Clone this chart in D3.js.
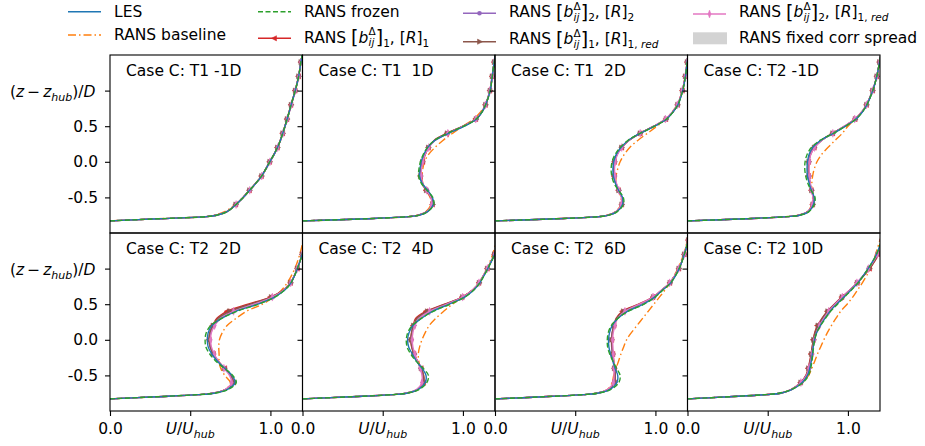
<!DOCTYPE html>
<html lang="en">
<head>
<meta charset="utf-8">
<script src="https://d3js.org/d3.v7.min.js"></script>
<title>Case C velocity profiles</title>
<style>
    body {margin: 0; background: #fff;}
    svg {display: block; font-family: "DejaVu Sans", sans-serif;}
    text {white-space: pre;}
</style>
</head>
<body>
<svg width="925" height="446"></svg>
<script>
// heights (z - z_hub)/D shared by every profile
const zLevels = [-0.83, -0.8, -0.77, -0.75, -0.7, -0.6, -0.5, -0.4, -0.3, -0.2, -0.1, 0, 0.1, 0.2, 0.3, 0.4, 0.5, 0.6, 0.7, 0.8, 1.0, 1.2, 1.4, 1.5];

const panelTitles = ["Case C: T1 -1D", "Case C: T1  1D", "Case C: T1  2D", "Case C: T2 -1D",
                     "Case C: T2  2D", "Case C: T2  4D", "Case C: T2  6D", "Case C: T2 10D"];

const xTicks = [0, 0.5, 1.0];
const yTicks = [-0.5, 0, 0.5, 1.0];

// U/U_hub, one row per panel
const les = [
    [0, 0.30, 0.60, 0.665, 0.73, 0.785, 0.83, 0.87, 0.91, 0.945, 0.972, 0.996, 1.022, 1.044, 1.062, 1.077, 1.091, 1.104, 1.117, 1.129, 1.155, 1.176, 1.19, 1.198],
    [0, 0.40, 0.66, 0.73, 0.78, 0.815, 0.81, 0.78, 0.745, 0.73, 0.732, 0.74, 0.755, 0.78, 0.825, 0.91, 1.01, 1.085, 1.12, 1.142, 1.17, 1.183, 1.195, 1.202],
    [0, 0.38, 0.65, 0.71, 0.76, 0.795, 0.795, 0.77, 0.75, 0.738, 0.735, 0.74, 0.755, 0.785, 0.83, 0.905, 0.995, 1.07, 1.11, 1.14, 1.17, 1.187, 1.198, 1.203],
    [0, 0.36, 0.62, 0.70, 0.755, 0.785, 0.79, 0.772, 0.758, 0.748, 0.745, 0.748, 0.757, 0.78, 0.83, 0.91, 0.985, 1.05, 1.09, 1.118, 1.155, 1.18, 1.197, 1.205],
    [0, 0.29, 0.55, 0.65, 0.73, 0.78, 0.76, 0.715, 0.67, 0.635, 0.612, 0.607, 0.612, 0.635, 0.695, 0.785, 0.92, 1.025, 1.09, 1.128, 1.168, 1.198, 1.22, 1.23],
    [0, 0.30, 0.56, 0.65, 0.72, 0.765, 0.77, 0.745, 0.71, 0.685, 0.662, 0.655, 0.664, 0.688, 0.74, 0.81, 0.915, 1.01, 1.068, 1.105, 1.155, 1.197, 1.22, 1.23],
    [0, 0.30, 0.55, 0.64, 0.715, 0.76, 0.765, 0.748, 0.735, 0.72, 0.71, 0.708, 0.714, 0.73, 0.765, 0.825, 0.925, 0.995, 1.045, 1.095, 1.148, 1.18, 1.205, 1.215],
    [0, 0.26, 0.49, 0.58, 0.65, 0.715, 0.748, 0.762, 0.772, 0.778, 0.784, 0.792, 0.805, 0.828, 0.857, 0.888, 0.93, 0.975, 1.02, 1.062, 1.126, 1.178, 1.21, 1.225]
];
const baseline = [
    [0, 0.30, 0.60, 0.65, 0.715, 0.78, 0.828, 0.868, 0.908, 0.944, 0.972, 0.996, 1.022, 1.044, 1.062, 1.077, 1.091, 1.104, 1.117, 1.129, 1.155, 1.176, 1.19, 1.198],
    [0, 0.40, 0.66, 0.72, 0.77, 0.80, 0.795, 0.77, 0.75, 0.745, 0.75, 0.76, 0.785, 0.825, 0.875, 0.935, 1.0, 1.065, 1.11, 1.14, 1.17, 1.183, 1.195, 1.202],
    [0, 0.38, 0.64, 0.70, 0.75, 0.785, 0.785, 0.77, 0.755, 0.755, 0.765, 0.78, 0.805, 0.84, 0.89, 0.95, 1.01, 1.065, 1.105, 1.135, 1.168, 1.186, 1.197, 1.203],
    [0, 0.36, 0.61, 0.69, 0.745, 0.775, 0.78, 0.775, 0.775, 0.78, 0.79, 0.807, 0.835, 0.875, 0.92, 0.965, 1.0, 1.045, 1.085, 1.115, 1.155, 1.18, 1.197, 1.205],
    [0, 0.29, 0.55, 0.64, 0.72, 0.75, 0.715, 0.69, 0.68, 0.68, 0.678, 0.682, 0.70, 0.73, 0.785, 0.85, 0.95, 1.02, 1.07, 1.105, 1.152, 1.183, 1.205, 1.215],
    [0, 0.30, 0.56, 0.65, 0.72, 0.75, 0.75, 0.735, 0.725, 0.722, 0.73, 0.745, 0.765, 0.79, 0.83, 0.88, 0.935, 1.0, 1.06, 1.1, 1.15, 1.185, 1.21, 1.22],
    [0, 0.30, 0.55, 0.63, 0.70, 0.73, 0.74, 0.755, 0.77, 0.785, 0.802, 0.82, 0.85, 0.885, 0.92, 0.955, 0.99, 1.025, 1.06, 1.09, 1.14, 1.175, 1.2, 1.21],
    [0, 0.26, 0.49, 0.58, 0.645, 0.715, 0.755, 0.775, 0.793, 0.81, 0.83, 0.85, 0.872, 0.897, 0.925, 0.955, 0.995, 1.03, 1.06, 1.09, 1.14, 1.172, 1.2, 1.215]
];
const frozen = [
    [0, 0.30, 0.60, 0.665, 0.73, 0.786, 0.831, 0.87, 0.91, 0.945, 0.972, 0.996, 1.021, 1.044, 1.062, 1.077, 1.091, 1.104, 1.117, 1.129, 1.155, 1.176, 1.19, 1.198],
    [0, 0.40, 0.66, 0.73, 0.78, 0.818, 0.812, 0.775, 0.74, 0.724, 0.726, 0.735, 0.752, 0.778, 0.822, 0.905, 1.005, 1.082, 1.118, 1.141, 1.17, 1.183, 1.195, 1.202],
    [0, 0.38, 0.65, 0.71, 0.762, 0.80, 0.80, 0.77, 0.742, 0.728, 0.724, 0.73, 0.748, 0.78, 0.828, 0.905, 0.995, 1.07, 1.11, 1.14, 1.17, 1.187, 1.198, 1.203],
    [0, 0.36, 0.62, 0.70, 0.757, 0.79, 0.795, 0.77, 0.75, 0.737, 0.731, 0.733, 0.745, 0.772, 0.825, 0.91, 0.985, 1.05, 1.09, 1.118, 1.155, 1.18, 1.197, 1.205],
    [0, 0.29, 0.55, 0.65, 0.735, 0.787, 0.765, 0.712, 0.66, 0.622, 0.598, 0.593, 0.6, 0.628, 0.695, 0.79, 0.925, 1.027, 1.09, 1.128, 1.168, 1.198, 1.22, 1.23],
    [0, 0.30, 0.56, 0.65, 0.725, 0.775, 0.785, 0.752, 0.708, 0.675, 0.652, 0.647, 0.656, 0.683, 0.74, 0.815, 0.92, 1.012, 1.068, 1.105, 1.155, 1.197, 1.22, 1.23],
    [0, 0.30, 0.55, 0.64, 0.72, 0.772, 0.78, 0.757, 0.735, 0.715, 0.702, 0.70, 0.706, 0.725, 0.765, 0.83, 0.93, 0.998, 1.047, 1.095, 1.148, 1.18, 1.205, 1.215],
    [0, 0.26, 0.48, 0.57, 0.645, 0.72, 0.755, 0.768, 0.776, 0.781, 0.786, 0.793, 0.806, 0.83, 0.86, 0.892, 0.935, 0.978, 1.022, 1.063, 1.126, 1.178, 1.21, 1.225]
];
// RANS [b]_1, [R]_1
const corrB1R1 = [
    [0, 0.30, 0.60, 0.662, 0.728, 0.784, 0.829, 0.869, 0.909, 0.944, 0.971, 0.995, 1.021, 1.043, 1.061, 1.076, 1.09, 1.103, 1.116, 1.128, 1.154, 1.175, 1.19, 1.198],
    [0, 0.40, 0.66, 0.72, 0.775, 0.81, 0.80, 0.77, 0.745, 0.735, 0.74, 0.75, 0.765, 0.785, 0.82, 0.90, 1.0, 1.08, 1.118, 1.14, 1.168, 1.182, 1.195, 1.202],
    [0, 0.38, 0.65, 0.705, 0.755, 0.79, 0.79, 0.77, 0.752, 0.742, 0.74, 0.745, 0.76, 0.79, 0.835, 0.905, 0.99, 1.065, 1.108, 1.138, 1.168, 1.186, 1.198, 1.203],
    [0, 0.36, 0.62, 0.695, 0.75, 0.78, 0.785, 0.772, 0.762, 0.755, 0.752, 0.755, 0.765, 0.79, 0.835, 0.905, 0.98, 1.045, 1.087, 1.116, 1.154, 1.18, 1.197, 1.205],
    [0, 0.29, 0.55, 0.64, 0.72, 0.77, 0.755, 0.715, 0.675, 0.645, 0.625, 0.618, 0.622, 0.64, 0.665, 0.73, 0.86, 1.0, 1.08, 1.125, 1.168, 1.198, 1.22, 1.23],
    [0, 0.30, 0.56, 0.645, 0.715, 0.755, 0.755, 0.74, 0.715, 0.695, 0.68, 0.675, 0.68, 0.69, 0.705, 0.77, 0.885, 0.995, 1.06, 1.1, 1.152, 1.197, 1.22, 1.23],
    [0, 0.30, 0.55, 0.635, 0.705, 0.745, 0.75, 0.745, 0.74, 0.735, 0.73, 0.728, 0.732, 0.742, 0.755, 0.795, 0.895, 0.985, 1.04, 1.09, 1.146, 1.18, 1.205, 1.215],
    [0, 0.26, 0.49, 0.58, 0.645, 0.705, 0.738, 0.752, 0.762, 0.77, 0.777, 0.784, 0.793, 0.81, 0.838, 0.872, 0.915, 0.962, 1.012, 1.058, 1.135, 1.19, 1.215, 1.225]
];
// RANS [b]_2, [R]_2
const corrB2R2 = [
    [0, 0.30, 0.60, 0.663, 0.729, 0.785, 0.83, 0.87, 0.91, 0.945, 0.972, 0.996, 1.022, 1.044, 1.062, 1.077, 1.091, 1.104, 1.117, 1.129, 1.155, 1.176, 1.19, 1.198],
    [0, 0.40, 0.66, 0.725, 0.778, 0.812, 0.805, 0.775, 0.748, 0.736, 0.738, 0.746, 0.76, 0.784, 0.825, 0.905, 1.005, 1.083, 1.12, 1.141, 1.169, 1.183, 1.195, 1.202],
    [0, 0.38, 0.65, 0.707, 0.757, 0.792, 0.792, 0.772, 0.755, 0.745, 0.742, 0.746, 0.76, 0.788, 0.832, 0.903, 0.992, 1.067, 1.109, 1.139, 1.169, 1.187, 1.198, 1.203],
    [0, 0.36, 0.62, 0.697, 0.752, 0.782, 0.786, 0.774, 0.765, 0.758, 0.755, 0.757, 0.766, 0.79, 0.834, 0.906, 0.982, 1.047, 1.088, 1.117, 1.155, 1.18, 1.197, 1.205],
    [0, 0.29, 0.55, 0.64, 0.722, 0.765, 0.75, 0.712, 0.672, 0.642, 0.625, 0.62, 0.626, 0.648, 0.685, 0.765, 0.9, 1.015, 1.085, 1.127, 1.168, 1.198, 1.22, 1.23],
    [0, 0.30, 0.56, 0.645, 0.715, 0.752, 0.752, 0.738, 0.715, 0.697, 0.683, 0.678, 0.682, 0.695, 0.725, 0.79, 0.9, 1.0, 1.063, 1.102, 1.153, 1.197, 1.22, 1.23],
    [0, 0.30, 0.55, 0.635, 0.705, 0.745, 0.748, 0.742, 0.737, 0.732, 0.727, 0.726, 0.73, 0.742, 0.762, 0.81, 0.905, 0.99, 1.042, 1.092, 1.147, 1.18, 1.205, 1.215],
    [0, 0.26, 0.49, 0.58, 0.647, 0.708, 0.742, 0.757, 0.767, 0.774, 0.78, 0.788, 0.799, 0.818, 0.846, 0.878, 0.92, 0.966, 1.014, 1.058, 1.13, 1.184, 1.212, 1.225]
];
// RANS [b]_1, [R]_1,red
const corrB1R1red = [
    [0, 0.30, 0.60, 0.662, 0.728, 0.784, 0.83, 0.87, 0.91, 0.945, 0.972, 0.996, 1.022, 1.044, 1.062, 1.077, 1.091, 1.104, 1.117, 1.129, 1.155, 1.176, 1.19, 1.198],
    [0, 0.40, 0.66, 0.722, 0.776, 0.811, 0.803, 0.772, 0.746, 0.735, 0.739, 0.748, 0.763, 0.785, 0.822, 0.902, 1.002, 1.082, 1.119, 1.141, 1.169, 1.182, 1.195, 1.202],
    [0, 0.38, 0.65, 0.706, 0.756, 0.79, 0.79, 0.771, 0.753, 0.743, 0.741, 0.745, 0.76, 0.789, 0.834, 0.904, 0.99, 1.066, 1.108, 1.138, 1.168, 1.186, 1.198, 1.203],
    [0, 0.36, 0.62, 0.696, 0.751, 0.781, 0.785, 0.773, 0.763, 0.756, 0.753, 0.756, 0.765, 0.79, 0.835, 0.905, 0.98, 1.045, 1.087, 1.116, 1.154, 1.18, 1.197, 1.205],
    [0, 0.29, 0.55, 0.64, 0.72, 0.768, 0.752, 0.713, 0.674, 0.644, 0.624, 0.618, 0.623, 0.642, 0.672, 0.745, 0.875, 1.005, 1.082, 1.126, 1.168, 1.198, 1.22, 1.23],
    [0, 0.30, 0.56, 0.645, 0.715, 0.754, 0.754, 0.739, 0.716, 0.696, 0.681, 0.676, 0.68, 0.692, 0.712, 0.778, 0.89, 0.997, 1.061, 1.101, 1.152, 1.197, 1.22, 1.23],
    [0, 0.30, 0.55, 0.635, 0.705, 0.745, 0.749, 0.744, 0.739, 0.734, 0.729, 0.727, 0.731, 0.742, 0.758, 0.80, 0.90, 0.987, 1.041, 1.09, 1.146, 1.18, 1.205, 1.215],
    [0, 0.26, 0.49, 0.58, 0.646, 0.706, 0.74, 0.754, 0.764, 0.772, 0.778, 0.786, 0.795, 0.813, 0.84, 0.874, 0.917, 0.963, 1.013, 1.058, 1.134, 1.188, 1.214, 1.225]
];
// RANS [b]_2, [R]_1,red
const corrB2R1red = [
    [0, 0.30, 0.60, 0.664, 0.73, 0.786, 0.831, 0.871, 0.911, 0.946, 0.973, 0.997, 1.023, 1.045, 1.063, 1.078, 1.092, 1.105, 1.118, 1.13, 1.156, 1.177, 1.19, 1.198],
    [0, 0.40, 0.66, 0.724, 0.777, 0.805, 0.80, 0.774, 0.75, 0.74, 0.742, 0.75, 0.764, 0.787, 0.826, 0.906, 1.003, 1.08, 1.117, 1.14, 1.168, 1.183, 1.195, 1.202],
    [0, 0.38, 0.65, 0.706, 0.755, 0.787, 0.787, 0.772, 0.757, 0.748, 0.745, 0.749, 0.763, 0.79, 0.834, 0.905, 0.99, 1.062, 1.105, 1.136, 1.167, 1.186, 1.198, 1.203],
    [0, 0.36, 0.62, 0.696, 0.75, 0.778, 0.782, 0.772, 0.765, 0.76, 0.758, 0.76, 0.768, 0.792, 0.836, 0.906, 0.978, 1.042, 1.085, 1.115, 1.153, 1.18, 1.197, 1.205],
    [0, 0.29, 0.55, 0.64, 0.718, 0.758, 0.745, 0.71, 0.675, 0.65, 0.632, 0.627, 0.632, 0.652, 0.69, 0.77, 0.9, 1.012, 1.083, 1.126, 1.167, 1.198, 1.22, 1.23],
    [0, 0.30, 0.56, 0.642, 0.71, 0.745, 0.745, 0.735, 0.716, 0.70, 0.688, 0.684, 0.688, 0.70, 0.728, 0.792, 0.9, 0.998, 1.06, 1.1, 1.152, 1.197, 1.22, 1.23],
    [0, 0.30, 0.55, 0.632, 0.70, 0.738, 0.742, 0.742, 0.741, 0.738, 0.735, 0.733, 0.737, 0.748, 0.765, 0.81, 0.90, 0.985, 1.038, 1.088, 1.145, 1.18, 1.205, 1.215],
    [0, 0.26, 0.49, 0.58, 0.646, 0.707, 0.742, 0.757, 0.768, 0.776, 0.783, 0.792, 0.804, 0.823, 0.85, 0.88, 0.92, 0.965, 1.012, 1.056, 1.128, 1.183, 1.212, 1.225]
];
// every other height gets a marker
const markerIdx = [5, 7, 9, 11, 13, 15, 17, 19, 20, 21, 22];

const svg = d3.select('svg');
const colX = [110, 302.5, 495, 687.5], rowY = [55, 233];
const pw = 192.5, ph = 178;
const fs = 15.5;

const x = d3.scaleLinear().domain([0, 1.2]).range([0, pw]);
const y = d3.scaleLinear().domain([-1, 1.5]).range([ph, 0]);

const series = [
    {data: baseline, color: '#ff7f0e', dash: '8,3,1.5,3'},
    {data: corrB1R1, color: '#d62728', marker: 'left'},
    {data: corrB2R2, color: '#9467bd', marker: 'dot'},
    {data: corrB1R1red, color: '#8c564b', marker: 'right'},
    {data: corrB2R1red, color: '#e377c2', marker: 'thin'},
    {data: les, color: '#1f77b4'},
    {data: frozen, color: '#2ca02c', dash: '5,2.5'}
];
const corrSets = [corrB1R1, corrB2R2, corrB1R1red, corrB2R1red];

const markerPath = {
    left: 'M-3,0L2,-2.6L2,2.6Z',
    right: 'M3,0L-2,-2.6L-2,2.6Z',
    thin: 'M0,-4L1.5,0L0,4L-1.5,0Z'
};
function drawMarker(g, kind, color) {
    if (kind === 'dot') g.append('circle').attr('r', 2.3).attr('fill', color);
    else g.append('path').attr('d', markerPath[kind]).attr('fill', color).attr('stroke', color).attr('stroke-width', 0.5);
}

const curve = d3.curveCatmullRom.alpha(0.5);
const line = d3.line().x(d => x(d[0])).y(d => y(d[1])).curve(curve);
const area = d3.area().x0(d => x(d[0])).x1(d => x(d[1])).y(d => y(d[2])).curve(curve);
const fmt = d => d.toFixed(1);

panelTitles.forEach((title, p) => {
    const col = p % 4, row = Math.floor(p / 4);
    const g = svg.append('g').attr('transform', `translate(${colX[col]},${rowY[row]})`);

    g.append('clipPath').attr('id', 'clip' + p)
        .append('rect').attr('width', pw).attr('height', ph);
    const plot = g.append('g').attr('clip-path', `url(#clip${p})`);

    // spread of the fixed-correction runs
    const spread = zLevels.map((z, k) => {
        const vals = corrSets.map(s => s[p][k]);
        return [d3.min(vals), d3.max(vals), z];
    });
    plot.append('path').attr('d', area(spread)).attr('fill', '#d3d3d3');

    series.forEach(s => {
        const pts = zLevels.map((z, k) => [s.data[p][k], z]);
        plot.append('path').attr('d', line(pts))
            .attr('fill', 'none').attr('stroke', s.color).attr('stroke-width', 1.4)
            .attr('stroke-dasharray', s.dash || null);
        if (s.marker) {
            markerIdx.forEach(k => {
                drawMarker(plot.append('g').attr('transform', `translate(${x(pts[k][0])},${y(pts[k][1])})`), s.marker, s.color);
            });
        }
    });

    // axes
    g.append('g').call(d3.axisLeft(y).tickValues(yTicks).tickSize(5).tickPadding(7)
        .tickFormat(d => (col === 0 && d !== 1) ? fmt(d) : ''));
    if (row === 1) {
        g.append('g').attr('transform', `translate(0,${ph})`)
            .call(d3.axisBottom(x).tickValues(xTicks).tickSize(5).tickPadding(7)
                .tickFormat(d => d === 0.5 ? '' : fmt(d)));
        const xl = g.append('text').attr('x', x(0.5)).attr('y', 434 - rowY[row])
            .attr('text-anchor', 'middle').attr('font-size', fs);
        xl.append('tspan').attr('font-style', 'italic').text('U');
        xl.append('tspan').text('/');
        xl.append('tspan').attr('font-style', 'italic').text('U');
        xl.append('tspan').attr('font-style', 'italic').attr('font-size', 11).attr('dy', 4).text('hub');
    }
    if (col === 0) {
        const yl = g.append('text').attr('x', -100).attr('y', y(1.0) + 6)
            .attr('font-size', fs);
        yl.append('tspan').text('(');
        yl.append('tspan').attr('font-style', 'italic').text('z');
        yl.append('tspan').attr('dx', 3).text('\u2212');
        yl.append('tspan').attr('dx', 3).attr('font-style', 'italic').text('z');
        yl.append('tspan').attr('font-style', 'italic').attr('font-size', 11).attr('dy', 4).text('hub');
        yl.append('tspan').attr('dy', -4).text(')/');
        yl.append('tspan').attr('font-style', 'italic').text('D');
    }
    g.selectAll('.domain').remove();
    g.selectAll('.tick line').attr('stroke', '#000').attr('stroke-width', 1.1);
    g.selectAll('.tick text').attr('font-size', fs).attr('font-family', '"DejaVu Sans", sans-serif').attr('fill', '#000');

    g.append('rect').attr('width', pw).attr('height', ph)
        .attr('fill', 'none').attr('stroke', '#000').attr('stroke-width', 1.1);

    g.append('text').attr('x', 16).attr('y', 21)
        .attr('font-size', fs).text(title);
});

// legend
function addBij(t, s1, s2) {
    t.append('tspan').text('RANS ');
    t.append('tspan').attr('font-size', 19).attr('dy', 1.5).text('[');
    t.append('tspan').attr('font-style', 'italic').attr('dy', -1.5).text('b');
    t.append('tspan').attr('font-size', 10.5).attr('dy', -7.5).text('\u0394');
    t.append('tspan').attr('font-size', 10.5).attr('font-style', 'italic').attr('dx', -7).attr('dy', 11).text('ij');
    t.append('tspan').attr('font-size', 19).attr('dx', 1.3).attr('dy', -2).text(']');
    t.append('tspan').attr('font-size', 10.5).attr('dy', 2.5).text(s1);
    t.append('tspan').attr('dy', -4).text(', [');
    t.append('tspan').attr('font-style', 'italic').text('R');
    t.append('tspan').text(']');
    const [n, r] = s2.split(',');
    t.append('tspan').attr('font-size', 10.5).attr('dy', 4).text(r ? n + ', ' : n);
    if (r) t.append('tspan').attr('font-size', 10.5).attr('font-style', 'italic').text(r);
}

const legendItems = [
    {x: 68, hy: 11.7, ty: 17.3, color: '#1f77b4', label: t => t.text('LES')},
    {x: 68, hy: 35, ty: 40, color: '#ff7f0e', dash: '8,3,1.5,3', label: t => t.text('RANS baseline')},
    {x: 258, hy: 11.7, ty: 17.3, color: '#2ca02c', dash: '5,2.5', label: t => t.text('RANS frozen')},
    {x: 258, hy: 38.3, ty: 42.7, color: '#d62728', marker: 'left', label: t => addBij(t, '1', '1')},
    {x: 463, hy: 13.3, ty: 17, color: '#9467bd', marker: 'dot', label: t => addBij(t, '2', '2')},
    {x: 463, hy: 41.7, ty: 44.3, color: '#8c564b', marker: 'right', label: t => addBij(t, '1', '1,red')},
    {x: 693, hy: 14, ty: 17, color: '#e377c2', marker: 'thin', label: t => addBij(t, '2', '1,red')},
    {x: 693, hy: 38.3, ty: 42.7, patch: '#d3d3d3', label: t => t.text('RANS fixed corr spread')}
];
const lg = svg.append('g');
legendItems.forEach(it => {
    if (it.patch) {
        lg.append('rect').attr('x', it.x).attr('y', it.hy - 6).attr('width', 34).attr('height', 12).attr('fill', it.patch);
    } else {
        lg.append('line').attr('x1', it.x).attr('x2', it.x + 33).attr('y1', it.hy).attr('y2', it.hy)
            .attr('stroke', it.color).attr('stroke-width', 1.4).attr('stroke-dasharray', it.dash || null);
        if (it.marker) drawMarker(lg.append('g').attr('transform', `translate(${it.x + 16.5},${it.hy})`), it.marker, it.color);
    }
    const t = lg.append('text').attr('x', it.x + 46).attr('y', it.ty).attr('font-size', fs);
    it.label(t);
});
</script>
</body>
</html>
